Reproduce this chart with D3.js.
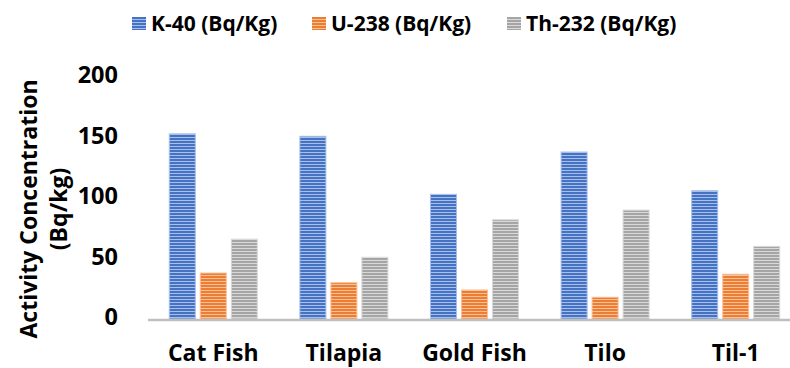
<!DOCTYPE html>
<html>
<head>
<meta charset="utf-8">
<script src="https://cdn.jsdelivr.net/npm/d3@7"></script>
<style>
  html, body { margin: 0; padding: 0; background: #fff; }
  svg text { font-family: "Open Sans", "Noto Sans", sans-serif; font-weight: 700; fill: #000; }
</style>
</head>
<body>
<svg id="chart" width="790" height="368"></svg>
<script>
// Sample names along the x axis
const categories = ["Cat Fish", "Tilapia", "Gold Fish", "Tilo", "Til-1"];
// Series names shown in the legend
const seriesNames = ["K-40 (Bq/Kg)", "U-238 (Bq/Kg)", "Th-232 (Bq/Kg)"];
// Activity concentrations (Bq/kg) per sample
const k40 = [153, 151, 103, 138, 106];
const u238 = [38, 30, 24, 18, 37];
const th232 = [66, 51, 82, 90, 60];
// Y axis ticks
const yTicks = [0, 50, 100, 150, 200];

const seriesValues = [k40, u238, th232];
const colors = [
  { base: "#4472C4", light: "#A9BFE8" },
  { base: "#ED7D31", light: "#F9C19B" },
  { base: "#A5A5A5", light: "#D9D9D9" }
];

const svg = d3.select("#chart");
const plot = { left: 148, right: 801, top: 77, bottom: 319 };

// Striped fills for the bars and legend swatches
const defs = svg.append("defs");
colors.forEach((c, i) => {
  const p = defs.append("pattern")
    .attr("id", "stripe" + i)
    .attr("patternUnits", "userSpaceOnUse")
    .attr("width", 6).attr("height", 3);
  p.append("rect").attr("width", 6).attr("height", 3).attr("fill", c.base);
  p.append("rect").attr("y", 2).attr("width", 6).attr("height", 1).attr("fill", c.light);
});

const x0 = d3.scaleBand()
  .domain(categories)
  .range([plot.left, plot.right])
  .paddingInner(0.326)
  .paddingOuter(0.163);

const x1 = d3.scaleBand()
  .domain(d3.range(seriesNames.length))
  .range([0, x0.bandwidth()])
  .paddingInner(0.16)
  .paddingOuter(0);

const y = d3.scaleLinear()
  .domain([0, 200])
  .range([plot.bottom, plot.top]);

// Bars
const groups = svg.append("g")
  .selectAll("g")
  .data(categories)
  .join("g")
  .attr("transform", d => `translate(${x0(d)},0)`);

groups.selectAll("rect")
  .data((d, ci) => seriesValues.map((vals, si) => ({ si, v: vals[ci] })))
  .join("rect")
  .attr("x", d => x1(d.si))
  .attr("y", d => y(d.v))
  .attr("width", x1.bandwidth())
  .attr("height", d => y(0) - y(d.v))
  .attr("fill", d => `url(#stripe${d.si})`)
  .attr("stroke", d => colors[d.si].light)
  .attr("stroke-width", 1);

// Baseline
svg.append("line")
  .attr("x1", plot.left).attr("x2", 790)
  .attr("y1", y(0) + 1).attr("y2", y(0) + 1)
  .attr("stroke", "#BFBFBF")
  .attr("stroke-width", 2.5);

// Y axis labels
const yAxis = d3.axisLeft(y).tickValues(yTicks).tickSize(0).tickPadding(0);
const yg = svg.append("g")
  .attr("transform", "translate(118,0)")
  .call(yAxis);
yg.select(".domain").remove();
yg.selectAll("text")
  .attr("font-size", 23.5)
  .attr("dy", "0.32em")
  .attr("y", -2)
  .style("font-family", '"Open Sans", sans-serif')
  .style("font-weight", 700)
  .attr("fill", "#000");

// X axis labels
const xAxis = d3.axisBottom(x0).tickSize(0).tickPadding(0);
const xg = svg.append("g")
  .attr("transform", `translate(0,${plot.bottom})`)
  .call(xAxis);
xg.select(".domain").remove();
xg.selectAll("text")
  .attr("font-size", 23)
  .attr("dy", 0)
  .attr("y", 42)
  .style("font-family", '"Open Sans", sans-serif')
  .style("font-weight", 700)
  .attr("fill", "#000");

// Y axis title
const title = svg.append("text")
  .attr("transform", "translate(0,209) rotate(-90)")
  .attr("text-anchor", "middle")
  .attr("font-size", 23);
title.append("tspan").attr("x", 0).attr("y", 37).text("Activity Concentration");
title.append("tspan").attr("x", 0).attr("y", 67).text("(Bq/kg)");

// Legend
const legendX = [132, 312, 507];
const legend = svg.append("g")
  .selectAll("g")
  .data(seriesNames)
  .join("g")
  .attr("transform", (d, i) => `translate(${legendX[i]},17)`);
legend.append("rect")
  .attr("width", 14).attr("height", 13)
  .attr("fill", (d, i) => `url(#stripe${i})`);
legend.append("text")
  .attr("x", 19)
  .attr("y", 13.5)
  .attr("font-size", 21)
  .text(d => d);
</script>
</body>
</html>
